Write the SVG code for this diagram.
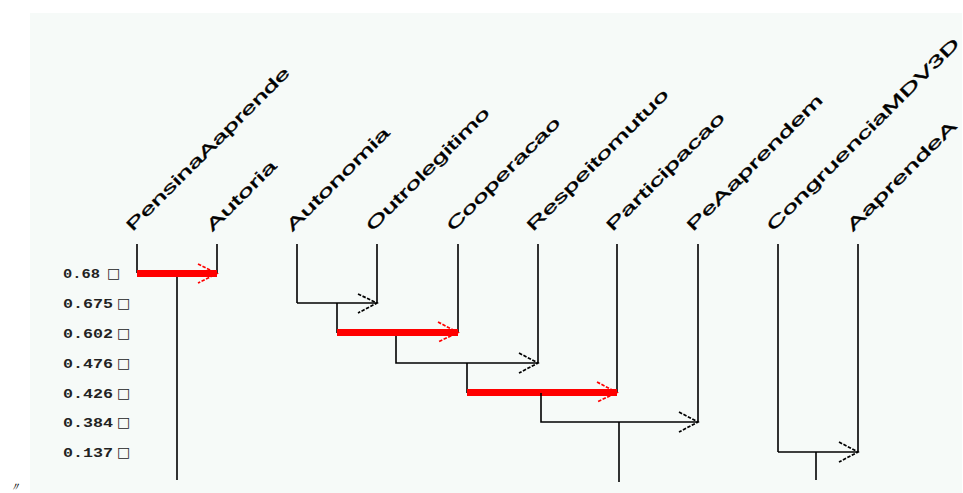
<svg xmlns="http://www.w3.org/2000/svg" width="963" height="493" viewBox="0 0 963 493">
<style>
.lbl{font-family:"Liberation Sans",Arial,sans-serif;font-size:16px;fill:#000;stroke:#000;stroke-width:0.35}
.ax{font-family:"Liberation Mono","DejaVu Sans Mono",monospace;font-size:13px;font-weight:bold;fill:#222}
.bx{font-family:"DejaVu Sans",sans-serif;font-size:14px;font-weight:bold;fill:#222}
.k{stroke:#000;stroke-width:1.6;fill:none}
.r{stroke:#f00;stroke-width:7;fill:none}
.ka{stroke:#000;stroke-width:1.7;fill:none;stroke-dasharray:3.5 1.5}
.ra{stroke:#f00;stroke-width:1.7;fill:none;stroke-dasharray:3.5 1.5}
</style>
<rect x="0" y="0" width="963" height="493" fill="#fff"/>
<rect x="30" y="13" width="932" height="480" fill="#f6faf8"/>
<text x="9" y="491" font-family="Liberation Serif,serif" font-style="italic" font-size="12" fill="#000">〃</text>

<g id="axis">
<text class="ax" x="63" y="278" textLength="37" lengthAdjust="spacingAndGlyphs">0.68</text><text class="bx" x="107" y="278">□</text>
<text class="ax" x="63" y="308" textLength="50" lengthAdjust="spacingAndGlyphs">0.675</text><text class="bx" x="117" y="308">□</text>
<text class="ax" x="63" y="338" textLength="50" lengthAdjust="spacingAndGlyphs">0.602</text><text class="bx" x="117" y="338">□</text>
<text class="ax" x="63" y="368" textLength="50" lengthAdjust="spacingAndGlyphs">0.476</text><text class="bx" x="117" y="368">□</text>
<text class="ax" x="63" y="398" textLength="50" lengthAdjust="spacingAndGlyphs">0.426</text><text class="bx" x="117" y="398">□</text>
<text class="ax" x="63" y="427" textLength="50" lengthAdjust="spacingAndGlyphs">0.384</text><text class="bx" x="117" y="427">□</text>
<text class="ax" x="63" y="457" textLength="50" lengthAdjust="spacingAndGlyphs">0.137</text><text class="bx" x="117" y="457">□</text>
</g>

<g id="n-PensinaAaprende"><text class="lbl" x="132.5" y="232" transform="rotate(-45 132.5 232)" textLength="224" lengthAdjust="spacingAndGlyphs">PensinaAaprende</text></g>
<g id="n-Autoria"><text class="lbl" x="212.5" y="232" transform="rotate(-45 212.5 232)" textLength="92" lengthAdjust="spacingAndGlyphs">Autoria</text></g>
<g id="n-Autonomia"><text class="lbl" x="292.5" y="232" transform="rotate(-45 292.5 232)" textLength="139" lengthAdjust="spacingAndGlyphs">Autonomia</text></g>
<g id="n-Outrolegitimo"><text class="lbl" x="372.5" y="232" transform="rotate(-45 372.5 232)" textLength="167" lengthAdjust="spacingAndGlyphs">Outrolegitimo</text></g>
<g id="n-Cooperacao"><text class="lbl" x="453" y="232" transform="rotate(-45 453 232)" textLength="153" lengthAdjust="spacingAndGlyphs">Cooperacao</text></g>
<g id="n-Respeitomutuo"><text class="lbl" x="533" y="232" transform="rotate(-45 533 232)" textLength="193" lengthAdjust="spacingAndGlyphs">Respeitomutuo</text></g>
<g id="n-Participacao"><text class="lbl" x="612.5" y="232" transform="rotate(-45 612.5 232)" textLength="160" lengthAdjust="spacingAndGlyphs">Participacao</text></g>
<g id="n-PeAaprendem"><text class="lbl" x="693" y="232" transform="rotate(-45 693 232)" textLength="185" lengthAdjust="spacingAndGlyphs">PeAaprendem</text></g>
<g id="n-CongruenciaMDV3D"><text class="lbl" x="773" y="232" transform="rotate(-45 773 232)" textLength="265" lengthAdjust="spacingAndGlyphs">CongruenciaMDV3D</text></g>
<g id="n-AaprendeA"><text class="lbl" x="853" y="232" transform="rotate(-45 853 232)" textLength="148" lengthAdjust="spacingAndGlyphs">AaprendeA</text></g>

<g id="connectors">
<path class="k" d="M137 244V273M217 244V273M297 244V303M377 244V303M458 244V333M538 244V363M617 244V393M698 244V422M778 244V452M858 244V452"/>
<path class="r" d="M137 273.5H217"/>
<path class="ra" d="M198 264L217 273.5L198 283"/>
<path class="k" d="M177 277V480"/>
<path class="k" d="M297 303H377"/>
<path class="ka" d="M358 294L377 303L358 313"/>
<path class="k" d="M337 303V333"/>
<path class="r" d="M337 332.5H458"/>
<path class="ra" d="M438 322L458 332.5L438 342"/>
<path class="k" d="M396 336V363H538"/>
<path class="ka" d="M519 353L538 363L519 373"/>
<path class="k" d="M467 363V393"/>
<path class="r" d="M467 392.5H617"/>
<path class="ra" d="M597 382L617 392.5L597 402"/>
<path class="k" d="M541 393V422H698"/>
<path class="ka" d="M679 412L698 422L679 432"/>
<path class="k" d="M619 422V482"/>
<path class="k" d="M778 452H858"/>
<path class="ka" d="M839 442L858 452L839 462"/>
<path class="k" d="M816 452V480"/>
</g>
</svg>
